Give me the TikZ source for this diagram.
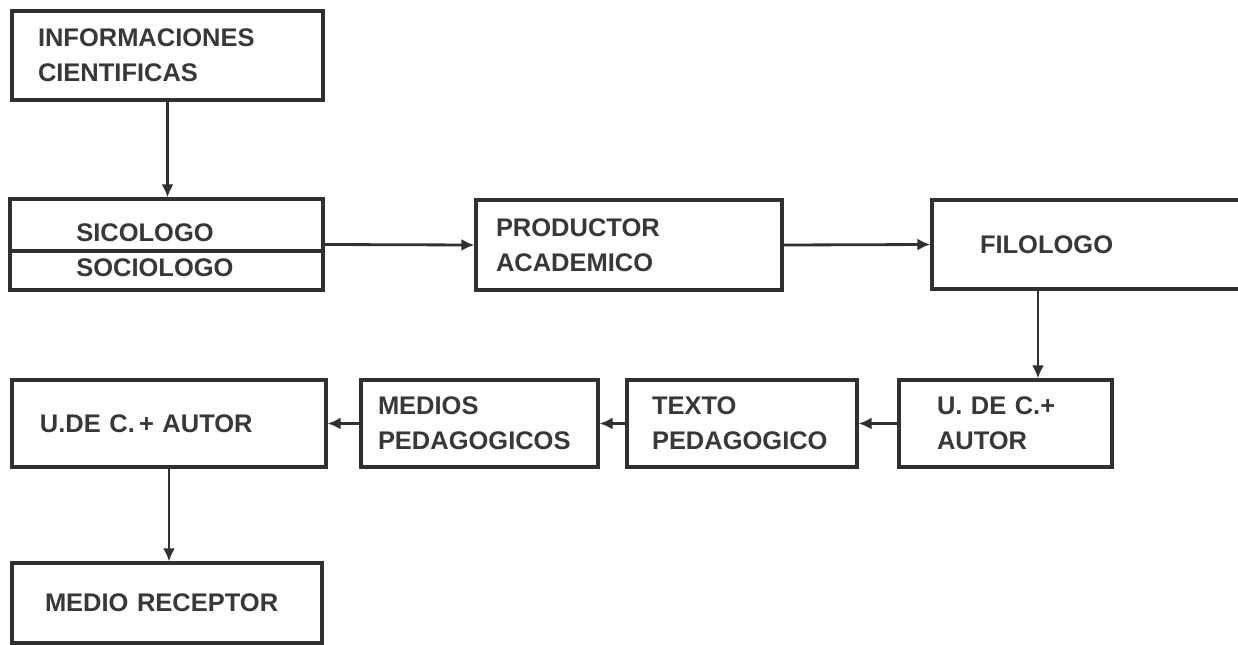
\documentclass[tikz,border=0pt]{standalone}
\usepackage{fontspec}
\setmainfont{Liberation Sans}
\usetikzlibrary{positioning,calc,arrows.meta}
\definecolor{ink}{HTML}{303030}
\definecolor{txt}{HTML}{383838}
\tikzset{
  box/.style  ={draw=ink, line width=1.8pt, align=left, text=txt,
                font=\bfseries\fontsize{14.5}{20}\selectfont, inner ysep=0pt},
  lbl/.style  ={anchor=west, inner sep=0pt, text=txt,
                font=\bfseries\fontsize{14.5}{20}\selectfont},
  flow/.style ={-{Latex[length=2.6mm,width=2.4mm]}, draw=ink, line width=1.6pt},
}
\begin{document}
\begin{tikzpicture}
    \useasboundingbox[fill=white] (0,0) rectangle (24.76,-12.9);
    % top row
    \node[box, text width=5.18cm, inner xsep=0.52cm, minimum height=1.78cm] (info) at (3.35,-1.11) {INFORMACIONES\\CIENTIFICAS};
    \node[box, minimum width=6.26cm, minimum height=1.82cm] (sic) at (3.33,-4.89) {};
    \draw[draw=ink, line width=1.8pt] ([yshift=-1.3mm]sic.west) -- ([yshift=-1.3mm]sic.east);
    \node[lbl] (sicol) at (1.52,-4.65) {SICOLOGO};
    \node[lbl] (socio) at (1.52,-5.35) {SOCIOLOGO};
    \node[box, text width=5.32cm, inner xsep=0.4cm, minimum height=1.8cm] (prod) at (12.58,-4.9) {PRODUCTOR\\ACADEMICO};
    \node[box, text width=4.34cm, inner xsep=0.96cm, minimum height=1.78cm] (filo) at (21.77,-4.89) {FILOLOGO};
    % bottom row
    \node[box, text width=2.74cm, inner xsep=0.76cm, minimum height=1.74cm] (udcr) at (20.11,-8.47) {U. DE C.+\\AUTOR};
    \node[box, text width=3.6cm, inner xsep=0.5cm, minimum height=1.74cm] (texto) at (14.84,-8.47) {TEXTO\\PEDAGOGICO};
    \node[box, text width=4.06cm, inner xsep=0.34cm, minimum height=1.74cm] (medios) at (9.59,-8.47) {MEDIOS\\PEDAGOGICOS};
    \node[box, text width=5.16cm, inner xsep=0.56cm, minimum height=1.74cm] (udcl) at (3.38,-8.47) {U.DE C.\,+ AUTOR};
    \node[box, text width=4.88cm, inner xsep=0.66cm, minimum height=1.6cm] (recep) at (3.34,-12.06) {MEDIO RECEPTOR};
    % connectors
    \coordinate (fx) at (20.76,0);
    \draw[flow] (info.south) -- (info.south |- sic.north);
    \draw[flow] (sic.east) -- (prod.west);
    \draw[flow] (prod.east) -- (filo.west);
    \draw[flow] (filo.south -| fx) -- (udcr.north -| fx);
    \draw[flow] (udcr.west) -- (texto.east);
    \draw[flow] (texto.west) -- (medios.east);
    \draw[flow] (medios.west) -- (udcl.east);
    \draw[flow] (udcl.south) -- (udcl.south |- recep.north);
\end{tikzpicture}
\end{document}
